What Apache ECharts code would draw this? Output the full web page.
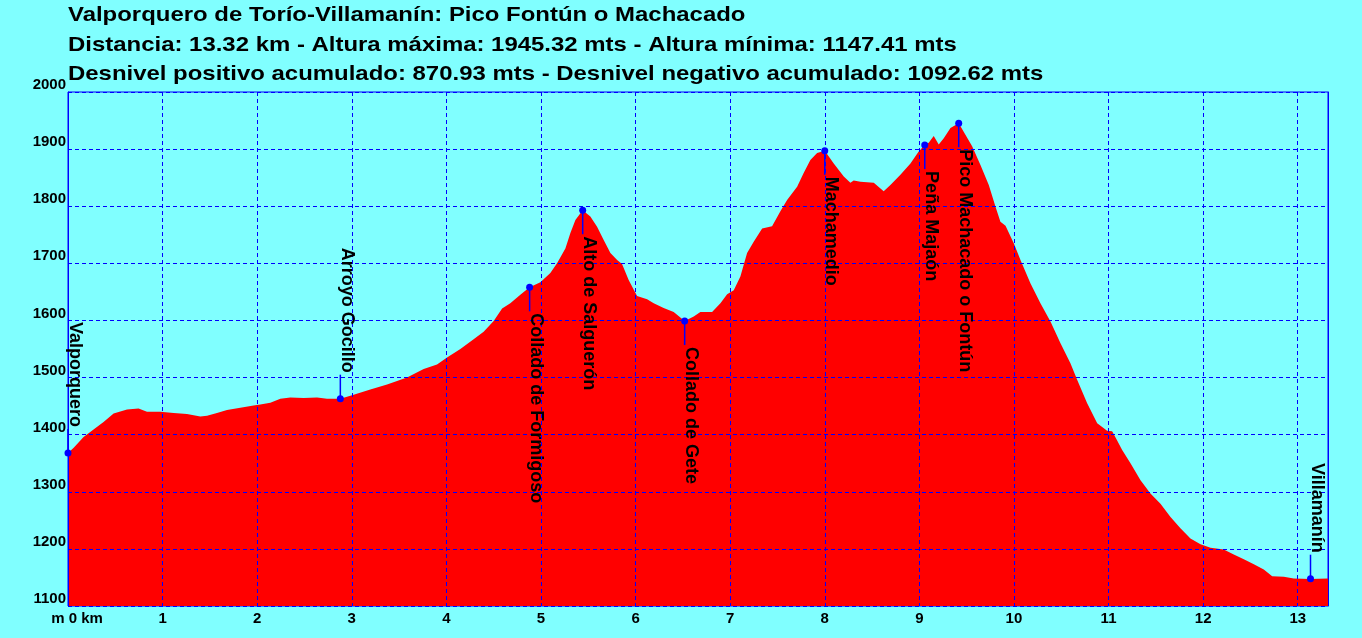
<!DOCTYPE html>
<html>
<head>
<meta charset="utf-8">
<script src="https://cdn.jsdelivr.net/npm/echarts@6/dist/echarts.min.js"></script>
<style>
html,body{margin:0;padding:0;background:#80FFFF;}
#chart{width:1362px;height:638px;}
</style>
</head>
<body>
<div id="chart"></div>
<script>
var titleLines = [
  'Valporquero de Torío-Villamanín: Pico Fontún o Machacado',
  'Distancia: 13.32 km - Altura máxima: 1945.32 mts - Altura mínima: 1147.41 mts',
  'Desnivel positivo acumulado: 870.93 mts - Desnivel negativo acumulado: 1092.62 mts'
];

var distanceKm = [0, 0.06, 0.165, 0.27, 0.376, 0.482, 0.624, 0.746, 0.835, 0.976,
  1.117, 1.258, 1.399, 1.47, 1.575, 1.681, 1.822, 1.962, 2.033, 2.139,
  2.245, 2.35, 2.491, 2.633, 2.738, 2.879,
  3.02, 3.196, 3.373, 3.584, 3.76, 3.901, 4.007, 4.148, 4.288, 4.394,
  4.5, 4.589, 4.676, 4.782, 4.88, 4.994, 5.099, 5.17, 5.258, 5.311,
  5.364, 5.441,
  5.522, 5.593, 5.663, 5.734, 5.805, 5.857, 5.927, 6.016, 6.122, 6.192,
  6.297, 6.403, 6.519, 6.615, 6.685, 6.809, 6.897, 6.968, 7.038, 7.108,
  7.179, 7.249, 7.338, 7.443, 7.531, 7.602, 7.708, 7.777, 7.848, 7.919,
  8.0, 8.095, 8.201, 8.271,
  8.306, 8.377, 8.518, 8.623, 8.694, 8.8, 8.906, 8.993, 9.057, 9.099,
  9.152, 9.205, 9.258, 9.329, 9.416, 9.487, 9.558, 9.646, 9.734, 9.805,
  9.857, 9.911, 9.998, 10.069, 10.174, 10.28, 10.386, 10.492, 10.597, 10.668,
  10.774, 10.88, 10.985,
  11.038, 11.091, 11.144, 11.232, 11.338, 11.443, 11.549, 11.655, 11.76, 11.866,
  11.972, 12.078, 12.218, 12.324, 12.43, 12.536, 12.641, 12.73, 12.853, 12.958,
  13.135, 13.32];

var elevationM = [1368, 1377, 1396, 1409, 1422, 1437, 1444, 1446, 1440, 1440,
  1438, 1436, 1432, 1433, 1438, 1443, 1447, 1451, 1453, 1456,
  1463, 1465, 1464, 1465, 1463, 1463,
  1470, 1479, 1488, 1500, 1515, 1523, 1535, 1550, 1567, 1580,
  1599, 1621, 1630, 1645, 1658, 1667, 1683, 1700, 1726, 1753,
  1776, 1793,
  1782, 1764, 1741, 1718, 1706, 1699, 1671, 1643, 1637, 1630,
  1622, 1615, 1599, 1607, 1615, 1615, 1630, 1646, 1653, 1677,
  1718, 1738, 1761, 1765, 1791, 1811, 1834, 1858, 1881, 1893,
  1897, 1875, 1852, 1841,
  1845, 1843, 1841, 1826, 1837, 1855, 1875, 1896, 1907, 1911,
  1923, 1908, 1919, 1937, 1945.3, 1925, 1905, 1872, 1837, 1799,
  1773, 1766, 1735, 1706, 1665, 1630, 1598, 1560, 1525, 1496,
  1455, 1420, 1407,
  1406, 1390, 1373, 1350, 1320, 1297, 1279, 1256, 1236, 1218,
  1208, 1202, 1199, 1190, 1182, 1173, 1164, 1152, 1151, 1148,
  1147.4, 1148];

var waypointNames = ['Valporquero', 'Arroyo Gocillo', 'Collado de Formigoso', 'Alto de Salguerón',
  'Collado de Gete', 'Machamedio', 'Peña Majaón', 'Pico Machacado o Fontún', 'Villamanín'];
var waypointKm = [0, 2.879, 4.88, 5.441, 6.519, 8.0, 9.057, 9.416, 13.135];
var waypointElev = [1368, 1463, 1658, 1793, 1599, 1897, 1907, 1945.3, 1147.8];

var xTickLabels = ['m 0 km', '1', '2', '3', '4', '5', '6', '7', '8', '9', '10', '11', '12', '13'];

var FONT = '"Liberation Sans", Arial, Helvetica, sans-serif';
var BLUE = '#0000FF';

var profile = distanceKm.map(function (d, i) { return [d, elevationM[i]]; });
var waypoints = waypointKm.map(function (d, i) { return [d, waypointElev[i]]; });

var chart = echarts.init(document.getElementById('chart'), null, {renderer: 'canvas'});

var titleGraphics = titleLines.map(function (t, i) {
  return {
    type: 'text',
    x: 68,
    y: 5 + i * 29.3,
    scaleX: 1.14,
    style: {
      text: t,
      fill: '#000',
      fontSize: 21,
      fontWeight: 'bold',
      fontFamily: FONT,
      align: 'left',
      verticalAlign: 'top'
    },
    z: 10
  };
});

chart.setOption({
  backgroundColor: '#80FFFF',
  animation: false,
  graphic: titleGraphics,
  grid: {
    left: 68, right: 34, top: 92, bottom: 32,
    show: true, borderColor: BLUE, borderWidth: 1, backgroundColor: 'transparent'
  },
  xAxis: [{
    type: 'value', min: 0, max: 13.32, interval: 1, z: 3,
    axisLine: {show: false},
    axisTick: {show: false},
    splitLine: {show: true, lineStyle: {color: BLUE, width: 1, type: [4, 3]}},
    axisLabel: {
      show: true, margin: 5, color: '#000', fontSize: 15, fontWeight: 'bold', fontFamily: FONT,
      showMaxLabel: false,
      formatter: function (v) {
        if (Math.abs(v - Math.round(v)) > 1e-6) return '';
        var idx = Math.round(v);
        if (idx === 0) return '{z|' + xTickLabels[0] + '}';
        return xTickLabels[idx] || '';
      },
      rich: {z: {padding: [0, 0, 0, 18], color: '#000', fontSize: 15, fontWeight: 'bold', fontFamily: FONT}}
    }
  }],
  yAxis: [{
    type: 'value', min: 1100, max: 2000, interval: 100, z: 3,
    axisLine: {show: true, lineStyle: {color: BLUE, width: 1}},
    axisTick: {show: false},
    splitLine: {show: true, lineStyle: {color: BLUE, width: 1, type: [4, 3]}},
    axisLabel: {
      show: true, margin: 2, color: '#000', fontSize: 15, fontWeight: 'bold', fontFamily: FONT,
      verticalAlign: 'bottom', lineHeight: 14,
      formatter: function (v) { return String(Math.round(v)); }
    }
  }, {
    type: 'value', min: 1100, max: 2000, interval: 100, z: 3, position: 'right',
    axisLine: {show: true, lineStyle: {color: BLUE, width: 1}},
    axisTick: {show: false}, axisLabel: {show: false}, splitLine: {show: false}
  }],
  series: [{
    type: 'line',
    data: profile,
    showSymbol: false,
    symbol: 'none',
    z: 2,
    lineStyle: {width: 0, color: '#FF0000'},
    areaStyle: {color: '#FF0000', opacity: 1, origin: 'start'},
    silent: true
  }, {
    type: 'custom',
    data: waypoints,
    z: 5,
    renderItem: function (params, api) {
      var el = api.value(1);
      var p = api.coord([api.value(0), el]);
      var above = el < 1500;
      var dir = above ? -1 : 1;
      var stem = 24, gap = 2;
      return {
        type: 'group',
        children: [
          {type: 'line', shape: {x1: p[0], y1: p[1], x2: p[0], y2: p[1] + dir * stem},
            style: {stroke: BLUE, lineWidth: 1.5}},
          {type: 'circle', shape: {cx: p[0], cy: p[1], r: 3.5}, style: {fill: BLUE}},
          {type: 'text', x: p[0], y: p[1] + dir * (stem + gap), rotation: -Math.PI / 2,
            style: {
              text: waypointNames[params.dataIndex], x: 0, y: -6.5,
              align: above ? 'right' : 'left', verticalAlign: 'middle',
              fill: '#000', fontSize: 18, fontWeight: 'bold', fontFamily: FONT
            }}
        ]
      };
    }
  }]
});
</script>
</body>
</html>
